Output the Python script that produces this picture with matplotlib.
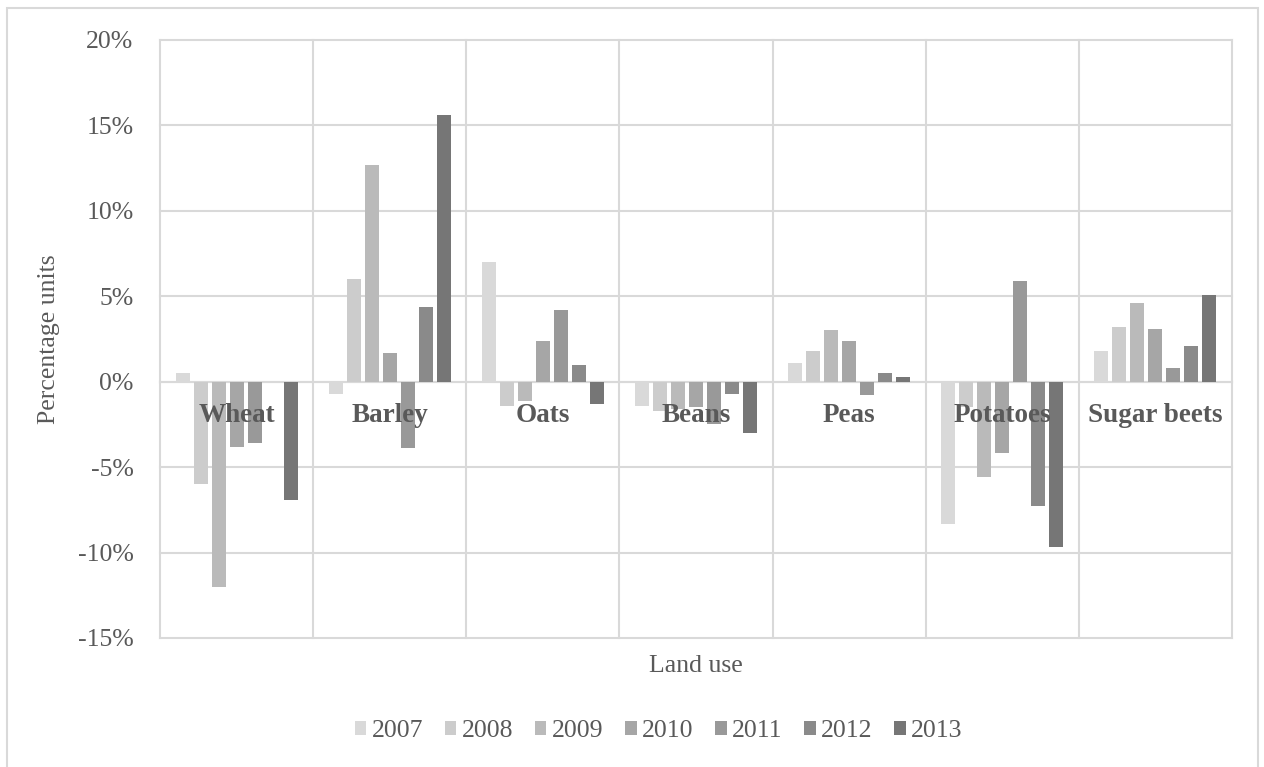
import numpy as np
import matplotlib
matplotlib.use("Agg")
import matplotlib.pyplot as plt
from matplotlib.patches import Rectangle

plt.rcParams['font.family'] = ['Liberation Serif', 'DejaVu Serif']
plt.rcParams['axes.unicode_minus'] = False

# Land use categories and yearly change (percentage units)
culturas = ["Wheat", "Barley", "Oats", "Beans", "Peas", "Potatoes", "Sugar beets"]
anos = ["2007", "2008", "2009", "2010", "2011", "2012", "2013"]

v2007 = [0.5, -0.7, 7.0, -1.4, 1.1, -8.3, 1.8]
v2008 = [-6.0, 6.0, -1.4, -1.7, 1.8, -1.5, 3.2]
v2009 = [-12.0, 12.7, -1.1, -1.6, 3.0, -5.6, 4.6]
v2010 = [-3.8, 1.7, 2.4, -1.5, 2.4, -4.2, 3.1]
v2011 = [-3.6, -3.9, 4.2, -2.5, -0.8, 5.9, 0.8]
v2012 = [0.0, 4.4, 1.0, -0.7, 0.5, -7.3, 2.1]
v2013 = [-6.9, 15.6, -1.3, -3.0, 0.3, -9.7, 5.1]
series = [v2007, v2008, v2009, v2010, v2011, v2012, v2013]

cores = ["#d9d9d9", "#cccccc", "#bababa", "#a6a6a6", "#999999", "#8a8a8a", "#767676"]
cor_texto = "#595959"
cor_grade = "#d9d9d9"

fig = plt.figure(figsize=(12.64, 7.67), dpi=100)
ax = fig.add_axes([160 / 1264, 1 - 638 / 767, 1072 / 1264, 598 / 767])

x = np.arange(len(culturas))
passo = 0.1176
largura = 0.0915
for i, (ano, vals) in enumerate(zip(anos, series)):
    deslocamento = (i - 3) * passo
    ax.bar(x + deslocamento, vals, width=largura, color=cores[i], label=ano, zorder=3)

# Eixo horizontal cruzando no zero
for lado in ['left', 'right', 'top']:
    ax.spines[lado].set_visible(False)
ax.spines['bottom'].set_position(('data', 0))
ax.spines['bottom'].set_color(cor_grade)
ax.spines['bottom'].set_linewidth(1.5)
ax.spines['bottom'].set_zorder(2)

ax.set_xlim(-0.5, len(culturas) - 0.5)
ax.set_ylim(-15, 20)
yt = np.arange(-15, 21, 5)
ax.set_yticks(yt)
ax.set_yticklabels([f"{v}%" for v in yt], fontsize=18.5, color=cor_texto)
ax.tick_params(axis='y', length=0, pad=19)

# Rótulos das categorias junto ao zero, por cima das barras
ax.set_xticks(x)
ax.set_xticklabels(culturas, fontsize=19.5, fontweight='bold', color=cor_texto)
ax.tick_params(axis='x', length=0, pad=15)
ax.xaxis.set_zorder(5)

# Grade: linhas horizontais nos ticks e verticais entre categorias
for v in yt:
    ax.axhline(v, color=cor_grade, linewidth=1.5, zorder=0, clip_on=False)
for b in np.arange(-0.5, len(culturas)):
    ax.axvline(b, color=cor_grade, linewidth=1.5, zorder=0, clip_on=False)

ax.set_ylabel("Percentage units", fontsize=18.5, color=cor_texto)
ax.yaxis.set_label_coords(-0.093, 0.5)
ax.text(0.5, -0.047, "Land use", transform=ax.transAxes, ha='center', va='center',
        fontsize=18.5, color=cor_texto)

leg = fig.legend(loc='center', bbox_to_anchor=(0.521, 36 / 767), ncol=7, frameon=False,
                 fontsize=18.5, handlelength=0.45, handleheight=0.45, handletextpad=0.2,
                 columnspacing=0.85)
for t in leg.get_texts():
    t.set_color(cor_texto)

# Moldura do gráfico
fig.patches.append(Rectangle((7 / 1264, -0.05), 1251 / 1264, 1.05 - 8 / 767,
                             transform=fig.transFigure, fill=False,
                             edgecolor=cor_grade, linewidth=1.5))

fig.savefig("out.png", dpi=100)
